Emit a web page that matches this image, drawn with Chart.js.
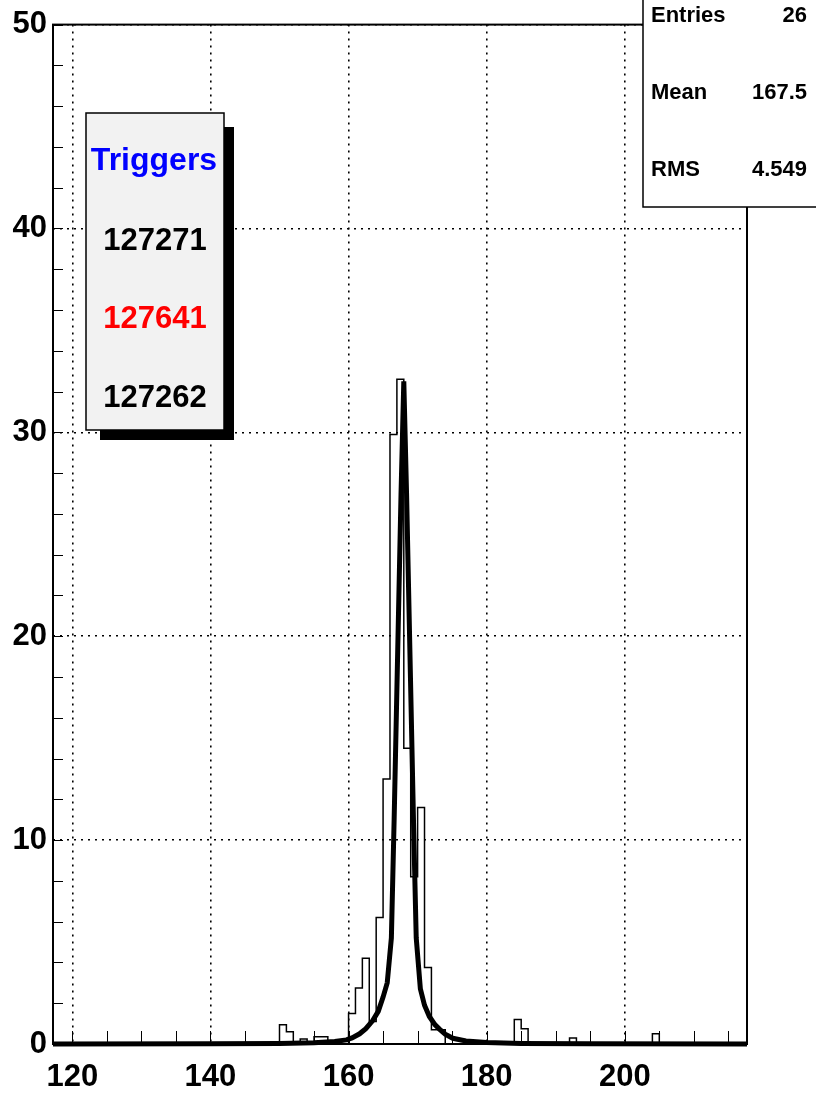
<!DOCTYPE html>
<html>
<head>
<meta charset="utf-8">
<script src="https://cdn.jsdelivr.net/npm/chart.js@4.4.0/dist/chart.umd.min.js"></script>
<style>
  html, body { margin: 0; padding: 0; background: #fff; }
  canvas { display: block; }
</style>
</head>
<body>
<canvas id="histo" width="816" height="1094"></canvas>
<script>
// histogram: value holds from each edge until the next one
const binEdges = [117.2, 150, 151, 152, 153, 154, 155, 157, 160, 161, 162, 163, 164, 165, 166, 167, 168, 169, 170, 171, 172, 173, 174, 184, 185, 186, 192, 193, 204, 205, 217.7];
const binCounts = [0, 0.95, 0.6, 0, 0.25, 0, 0.35, 0, 1.5, 2.75, 4.2, 1.1, 6.2, 13.0, 29.9, 32.6, 14.5, 8.2, 11.6, 3.75, 0.7, 0.7, 0, 1.2, 0.75, 0, 0.3, 0, 0.5, 0, 0];

// fitted curve
const fitX = [117.2, 140, 150, 155, 158, 159.7, 160.5, 161.6, 162.5, 163.5, 164.3, 165.0, 165.6, 166.2, 166.6, 167.1, 167.6, 168.0, 168.4, 168.9, 169.4, 169.8, 170.4, 171.0, 171.7, 172.5, 173.2, 174.0, 175.1, 177, 180, 185, 195, 217.7];
const fitY = [0, 0.01, 0.03, 0.06, 0.12, 0.2, 0.3, 0.5, 0.75, 1.15, 1.6, 2.3, 3.0, 5.2, 11, 19, 27, 32.5, 27, 19, 11, 5.2, 2.7, 1.9, 1.35, 0.95, 0.72, 0.48, 0.28, 0.15, 0.07, 0.03, 0.01, 0];

const xTickLabels = [120, 140, 160, 180, 200];
const yTickLabels = [0, 10, 20, 30, 40, 50];

const statNames = ["Entries", "Mean", "RMS"];
const statValues = ["26", "167.5", "4.549"];

const legendTitle = "Triggers";
const triggerRuns = ["127271", "127641", "127262"];
const triggerColors = ["#000000", "#ff0000", "#000000"];

const FONT = "'Liberation Sans', Arial, Helvetica, sans-serif";

const rootFrame = {
  id: "rootFrame",
  afterDraw(chart) {
    const { ctx, chartArea: a, scales } = chart;
    const x = scales.x, y = scales.y;
    ctx.save();

    // small ticks inside the frame
    ctx.strokeStyle = "#000";
    ctx.lineWidth = 1;
    ctx.beginPath();
    for (let v = 120; v <= x.max; v += 5) {
      const px = Math.round(x.getPixelForValue(v)) + 0.5;
      ctx.moveTo(px, a.bottom);
      ctx.lineTo(px, a.bottom - 13);
    }
    for (let v = 0; v <= y.max; v += 2) {
      const py = Math.round(y.getPixelForValue(v)) + 0.5;
      ctx.moveTo(a.left, py);
      ctx.lineTo(a.left + 10, py);
    }
    ctx.stroke();

    // frame
    ctx.lineWidth = 2;
    ctx.strokeRect(a.left, a.top, a.right - a.left, a.bottom - a.top);

    // legend box with shadow
    ctx.fillStyle = "#000";
    ctx.fillRect(100, 127, 134, 313);
    ctx.fillStyle = "#f2f2f2";
    ctx.fillRect(86, 113, 138, 317);
    ctx.lineWidth = 1.5;
    ctx.strokeRect(86, 113, 138, 317);

    ctx.textAlign = "center";
    ctx.textBaseline = "middle";
    ctx.font = "bold 32px " + FONT;
    ctx.fillStyle = "#0000ff";
    ctx.fillText(legendTitle, 154, 161);
    ctx.font = "bold 31px " + FONT;
    const rowY = [241, 319, 398];
    triggerRuns.forEach((t, i) => {
      ctx.fillStyle = triggerColors[i];
      ctx.fillText(t, 155, rowY[i]);
    });

    // stats box
    ctx.fillStyle = "#fff";
    ctx.fillRect(643, -2, 190, 209);
    ctx.strokeStyle = "#000";
    ctx.lineWidth = 1.5;
    ctx.strokeRect(643, -2, 190, 209);
    ctx.fillStyle = "#000";
    ctx.font = "bold 22px " + FONT;
    const statY = [16, 93, 170];
    statNames.forEach((n, i) => {
      ctx.textAlign = "left";
      ctx.fillText(n, 651, statY[i]);
      ctx.textAlign = "right";
      ctx.fillText(statValues[i], 807, statY[i]);
    });

    ctx.restore();
  }
};

const ctx = document.getElementById("histo");

new Chart(ctx, {
  type: "line",
  data: {
    datasets: [
      {
        label: "fit",
        data: fitX.map((v, i) => ({ x: v, y: fitY[i] })),
        borderColor: "#000",
        borderWidth: 5,
        pointRadius: 0,
        tension: 0,
        fill: false,
        clip: 4,
        order: 0,
      },
      {
        label: "histogram",
        data: binEdges.map((v, i) => ({ x: v, y: binCounts[i] })),
        stepped: "before",
        borderColor: "#000",
        borderWidth: 1.5,
        pointRadius: 0,
        fill: false,
        order: 1,
      },
    ],
  },
  options: {
    responsive: false,
    animation: false,
    devicePixelRatio: 1,
    layout: {
      padding: { left: 0, top: 22, right: 69, bottom: 0 },
    },
    plugins: {
      legend: { display: false },
      tooltip: { enabled: false },
    },
    scales: {
      x: {
        type: "linear",
        min: 117.2,
        max: 217.7,
        afterBuildTicks(scale) {
          scale.ticks = xTickLabels.map((v) => ({ value: v }));
        },
        afterFit(scale) {
          scale.height = 50;
        },
        grid: {
          color: "#000",
          lineWidth: 1.6,
          drawTicks: false,
        },
        border: {
          display: false,
          dash: [2, 5],
        },
        ticks: {
          color: "#000",
          padding: 15,
          maxRotation: 0,
          font: { family: FONT, weight: "bold", size: 31 },
        },
      },
      y: {
        min: 0,
        max: 50,
        afterBuildTicks(scale) {
          scale.ticks = yTickLabels.map((v) => ({ value: v }));
        },
        afterFit(scale) {
          scale.width = 53;
        },
        grid: {
          color: "#000",
          lineWidth: 1.6,
          drawTicks: false,
        },
        border: {
          display: false,
          dash: [2, 5],
        },
        ticks: {
          color: "#000",
          padding: 6,
          font: { family: FONT, weight: "bold", size: 31 },
        },
      },
    },
  },
  plugins: [rootFrame],
});
</script>
</body>
</html>
